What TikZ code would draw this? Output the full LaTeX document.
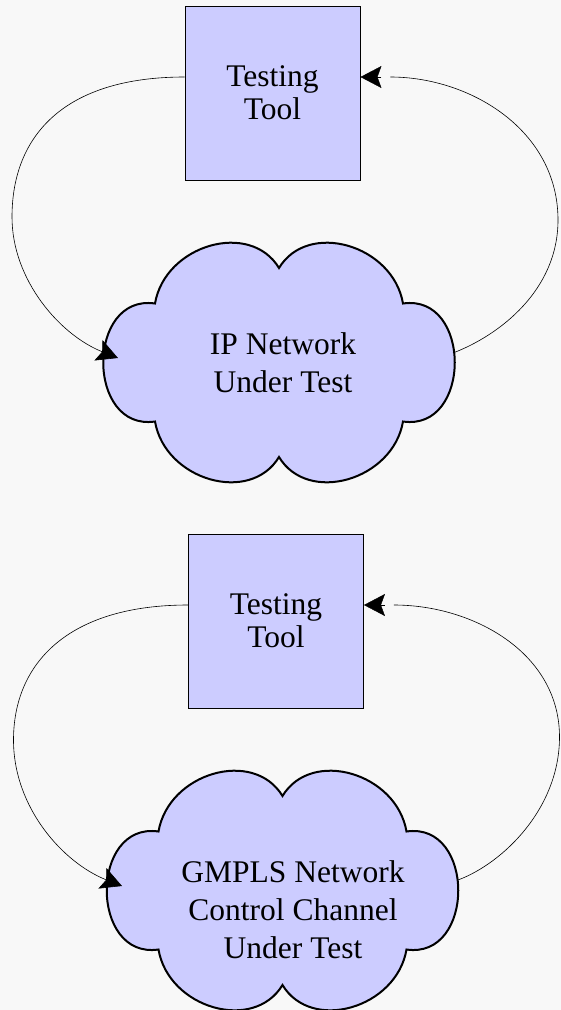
\documentclass[tikz,border=0pt]{standalone}
\usepackage{fontspec}
\setmainfont{Liberation Serif}
\usetikzlibrary{arrows.meta}
\definecolor{toolfill}{RGB}{204,204,255}
\definecolor{pagegray}{RGB}{248,248,248}

\begin{document}
\begin{tikzpicture}[x=1pt, y=-1pt,
   toolbox/.style={draw, line width=0.9pt, fill=toolfill, minimum width=175pt,
      minimum height=174pt, inner sep=0pt, align=center,
      font=\fontsize{31.5}{33}\selectfont},
   cloudtext/.style={align=center, inner sep=0pt, font=\fontsize{31.5}{38}\selectfont},
   feedline/.style={line width=0.6pt},
   intoarrow/.style={-{Stealth[length=21pt, width=22pt, inset=4pt]}},
   netcloud/.pic={
      \filldraw[line width=2pt, fill=toolfill] (-124,-59)
         .. controls (-114,-117.5) and (-29,-142.5) .. (0,-94.5)
         .. controls (29,-142.5) and (114,-117.5) .. (124,-59)
         .. controls (193,-69) and (193,69) .. (124,59)
         .. controls (114,117.5) and (29,142.5) .. (0,94.5)
         .. controls (-29,142.5) and (-114,117.5) .. (-124,59)
         .. controls (-193,69) and (-193,-69) .. cycle;
   }]
   \fill[pagegray] (0,0) rectangle (561,1010);
   \useasboundingbox (0,0) rectangle (561,1010);

   % IP network case
   \node[toolbox] (tool1) at (272.5,93) {Testing\\Tool};
   \pic at (279,362.5) {netcloud};
   \node[cloudtext] (ipnet) at (283,363) {IP Network\\Under Test};
   \coordinate (ipin) at (118,358);
   \coordinate (ipout) at (453,353);
   \draw[feedline, intoarrow] ([yshift=16pt]tool1.west)
      .. controls (65,77) and (12,135) .. (12,217)
      .. controls (12,280) and (60,335) .. (ipin);
   % return line stops short of its arrow head
   \draw[feedline, shorten >=30pt] (ipout)
      .. controls (500,335) and (558,290) .. (558,220)
      .. controls (558,130) and (470,77) .. ([yshift=16pt]tool1.east);
   \draw[intoarrow] ([xshift=21pt, yshift=16pt]tool1.east) -- ([yshift=16pt]tool1.east);

   % GMPLS case, same loop one step down
   \begin{scope}[shift={(3.5,528)}]
   \node[toolbox] (tool2) at (272.5,93) {Testing\\Tool};
   \pic at (279,362.5) {netcloud};
   \node[cloudtext] (gmpls) at (289.5,381.5) {GMPLS Network\\Control Channel\\Under Test};
   \coordinate (gmplsin) at (118.5,358);
   \coordinate (gmplsout) at (454.5,352);
   \draw[feedline, intoarrow] ([yshift=16pt]tool2.west)
      .. controls (65,77) and (10,135) .. (10,212)
      .. controls (10,280) and (60,335) .. (gmplsin);
   \draw[feedline, shorten >=30pt] (gmplsout)
      .. controls (500,335) and (556,280) .. (556,209)
      .. controls (556,125) and (470,77) .. ([yshift=16pt]tool2.east);
   \draw[intoarrow] ([xshift=21pt, yshift=16pt]tool2.east) -- ([yshift=16pt]tool2.east);
   \end{scope}
\end{tikzpicture}
\end{document}
